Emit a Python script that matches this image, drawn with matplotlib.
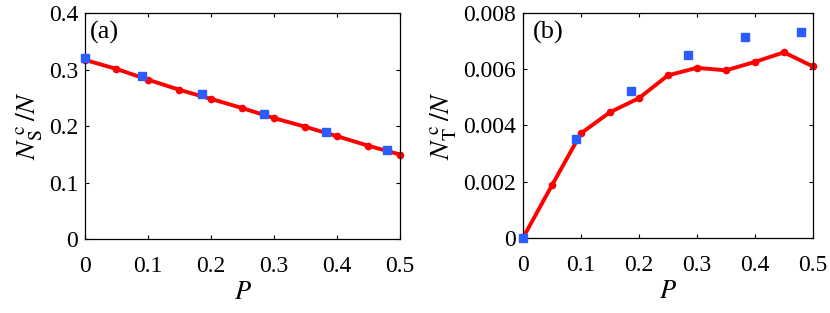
import matplotlib
matplotlib.use("Agg")
import matplotlib.pyplot as plt

plt.rcParams['font.family'] = ['Liberation Serif', 'DejaVu Serif']
plt.rcParams['mathtext.fontset'] = 'stix'

# red line: simulation at P = 0, 0.05, ..., 0.5
P_line = [0.0, 0.05, 0.1, 0.15, 0.2, 0.25, 0.3, 0.35, 0.4, 0.45, 0.5]
ns_line = [0.317, 0.301, 0.282, 0.264, 0.248, 0.2316, 0.214, 0.1985, 0.182, 0.165, 0.1495]
nt_line = [0.0, 0.00187, 0.00372, 0.00447, 0.00497, 0.00578, 0.00605, 0.00596, 0.00626, 0.00660, 0.00610]

# blue squares
P_sq = [0.0, 0.091, 0.186, 0.284, 0.383, 0.480]
ns_sq = [0.320, 0.289, 0.2565, 0.222, 0.189, 0.158]
nt_sq = [0.0, 0.00353, 0.00522, 0.00652, 0.00715, 0.00732]

fig = plt.figure(figsize=(8.3, 3.13), dpi=100)
ax1 = fig.add_axes([0.1024, 0.2364, 0.3795, 0.722])
ax2 = fig.add_axes([0.630, 0.2396, 0.3494, 0.719])

panels = [
    (ax1, ns_line, ns_sq, 0.4, [0, 0.1, 0.2, 0.3, 0.4], ['0', '0.1', '0.2', '0.3', '0.4'],
     r'$N_{\mathrm{S}}^{\;\mathrm{c}}\,/N$', '(a)', 0.015),
    (ax2, nt_line, nt_sq, 0.008, [0, 0.002, 0.004, 0.006, 0.008],
     ['0', '0.002', '0.004', '0.006', '0.008'],
     r'$N_{\mathrm{T}}^{\;\mathrm{c}}\,/N$', '(b)', 0.034),
]

for ax, yl, ys, ymax, yt, ytl, ylab, tag, tx in panels:
    ax.plot(P_line, yl, color='#ff0000', lw=2.8, marker='o', ms=4.5, zorder=2, clip_on=False)
    ax.plot(P_sq, ys, ls='none', marker='s', ms=5.5, color='#2a5cff', zorder=3, clip_on=False)
    ax.set_xlim(0, 0.5)
    ax.set_ylim(0, ymax)
    ax.set_xticks([0, 0.1, 0.2, 0.3, 0.4, 0.5])
    ax.set_xticklabels(['0', '0.1', '0.2', '0.3', '0.4', '0.5'])
    ax.set_yticks(yt)
    ax.set_yticklabels(ytl)
    ax.tick_params(direction='in', top=True, right=True, length=3, width=0.8,
                   labelsize=17)
    ax.tick_params(axis='x', pad=12)
    ax.tick_params(axis='y', pad=5)
    for s in ax.spines.values():
        s.set_linewidth(0.9)
    ax.set_xlabel(r'$P$', fontsize=19, labelpad=4)
    ax.set_ylabel(ylab, fontsize=20, labelpad=3)
    ax.text(tx, 0.965, tag, transform=ax.transAxes, ha='left', va='top', fontsize=19)

fig.savefig('out.png', dpi=100)
